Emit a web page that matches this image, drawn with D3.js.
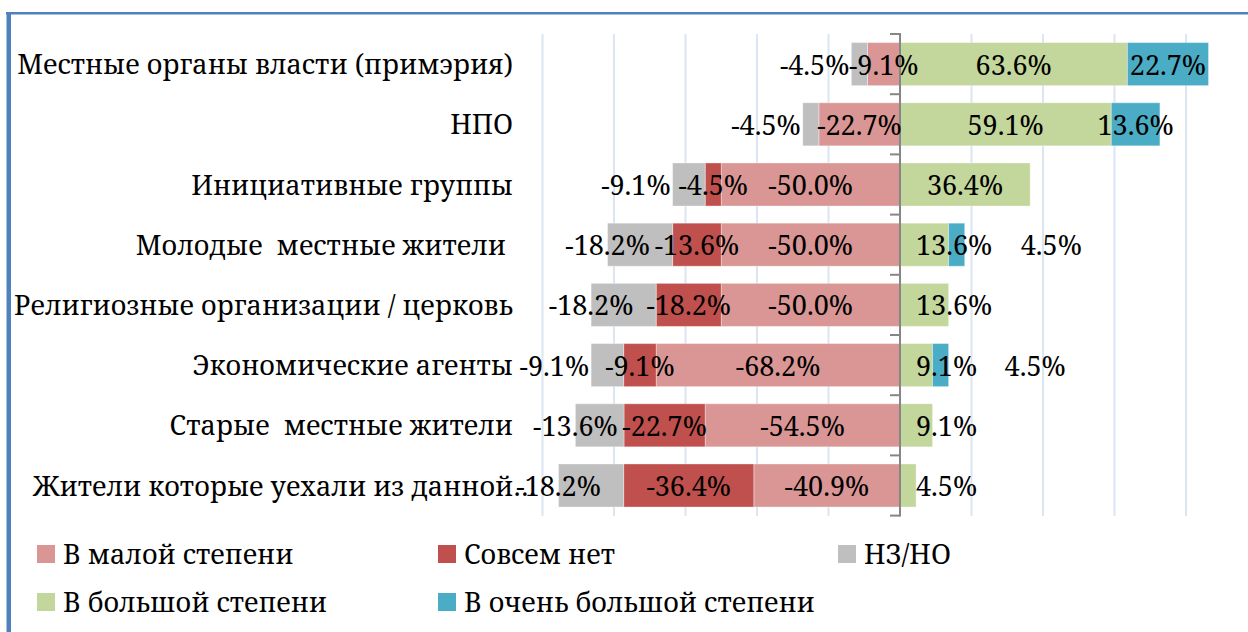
<!DOCTYPE html>
<html>
<head>
<meta charset="utf-8">
<script src="https://cdn.jsdelivr.net/npm/d3@7"></script>
<style>
  body { margin: 0; background: #fff; }
</style>
</head>
<body>
<svg id="chart" width="1248" height="632"></svg>
<script>
// categories top to bottom
const categories = [
  "Местные органы власти (примэрия)",
  "НПО",
  "Инициативные группы",
  "Молодые  местные жители ",
  "Религиозные организации / церковь",
  "Экономические агенты",
  "Старые  местные жители",
  "Жители которые уехали из данной…"
];

// series, negatives go left of zero
const maloy    = [-9.1, -22.7, -50.0, -50.0, -50.0, -68.2, -54.5, -40.9];
const sovsem   = [0, 0, -4.5, -13.6, -18.2, -9.1, -22.7, -36.4];
const nzno     = [-4.5, -4.5, -9.1, -18.2, -18.2, -9.1, -13.6, -18.2];
const bolshoy  = [63.6, 59.1, 36.4, 13.6, 13.6, 9.1, 9.1, 4.5];
const ochen    = [22.7, 13.6, 0, 4.5, 0, 4.5, 0, 0];

const seriesKeys  = ["maloy", "sovsem", "nzno", "bolshoy", "ochen"];
const seriesNames = ["В малой степени", "Совсем нет", "НЗ/НО", "В большой степени", "В очень большой степени"];
const seriesColors = ["#d99694", "#c0504d", "#bfbfbf", "#c3d69b", "#4bacc6"];
const gridTicks = [-100, -80, -60, -40, -20, 0, 20, 40, 60, 80];

const FONT = "'Noto Serif', 'Liberation Serif', serif";
const svg = d3.select("#chart");

// table for d3.stack
let rows = categories.map(function(c, i){
  return {cat: c, maloy: maloy[i], sovsem: sovsem[i], nzno: nzno[i], bolshoy: bolshoy[i], ochen: ochen[i]};
});

let x = d3.scaleLinear().domain([-100, 100]).range([542.5, 1257.5]);
let y = d3.scaleBand().domain(categories).range([34, 515.6]).paddingInner(0.285).paddingOuter(0.1425);

// outer frame (blue border top and left)
svg.append("rect").attr("x", 6).attr("y", 12).attr("width", 1260).attr("height", 2.5).attr("fill", "#4f81bd");
svg.append("rect").attr("x", 6.5).attr("y", 12).attr("width", 4.5).attr("height", 640).attr("fill", "#4f81bd");

// gridlines
svg.append("g").selectAll("line").data(gridTicks.filter(d => d != 0)).join("line")
  .attr("x1", d => x(d)).attr("x2", d => x(d))
  .attr("y1", 34).attr("y2", 516)
  .attr("stroke", "#dce6f2").attr("stroke-width", 2);

let stack = d3.stack().keys(seriesKeys).offset(d3.stackOffsetDiverging);
let stacked = stack(rows);

let barG = svg.append("g");
stacked.forEach(function(layer, si){
  barG.append("g").selectAll("rect").data(layer.filter(d => d[1] != d[0])).join("rect")
    .attr("x", d => x(Math.min(d[0], d[1])))
    .attr("width", d => Math.abs(x(d[1]) - x(d[0])))
    .attr("y", d => y(d.data.cat))
    .attr("height", y.bandwidth())
    .attr("fill", seriesColors[si])
    .attr("stroke", "#ffffff").attr("stroke-opacity", 0.35).attr("stroke-width", 1);
});

// zero axis, ticks sit between categories
let axisG = svg.append("g").attr("transform", "translate(" + x(0) + ",0)");
axisG.append("line").attr("y1", 33).attr("y2", 516.5)
  .attr("stroke", "#868686").attr("stroke-width", 2);
let bounds = d3.range(categories.length + 1).map(i => y.range()[0] + i * y.step());
axisG.append("g").selectAll("line").data(bounds).join("line")
  .attr("x1", -10).attr("x2", 0).attr("y1", d => d).attr("y2", d => d)
  .attr("stroke", "#868686").attr("stroke-width", 2);

// category labels, a too long one starts at the left of the label area
let catText = svg.append("g").selectAll("text").data(categories).join("text")
  .attr("x", 513)
  .attr("y", d => y(d) + y.bandwidth() / 2 + 10)
  .attr("text-anchor", "end")
  .style("font-family", FONT).style("font-size", "27px").style("white-space", "pre")
  .text(d => d);
catText.each(function(){
  if (this.getComputedTextLength() > 500) {
    d3.select(this).attr("x", 33).attr("text-anchor", "start");
  }
});

// data labels
let labelG = svg.append("g");
function fmt(v){ return v.toFixed(1) + "%"; }
stacked.forEach(function(layer, si){
  layer.forEach(function(d){
    let v = d.data[seriesKeys[si]];
    if (v == 0) return;
    let lo = x(Math.min(d[0], d[1])), hi = x(Math.max(d[0], d[1]));
    let lx = (lo + hi) / 2, anchor = "middle";
    let key = seriesKeys[si];
    if (key == "nzno") {
      if (Math.abs(v) < 10) { lx = lo - 2; anchor = "end"; }
      else { lx = lo; }
    } else if (key == "bolshoy" && v < 20) {
      lx = x(0) + 16; anchor = "start";
    } else if (key == "ochen" && v < 10) {
      lx = hi + 56; anchor = "start";
    }
    labelG.append("text")
      .attr("x", lx)
      .attr("y", y(d.data.cat) + y.bandwidth() / 2 + 10.5)
      .attr("text-anchor", anchor)
      .style("font-family", FONT).style("font-size", "27px")
      .text(fmt(v));
  });
});

// legend
let legendX = [37, 438, 838, 37, 438];
let legendY = [554, 554, 554, 602, 602];
let leg = svg.append("g").selectAll("g").data(seriesNames).join("g")
  .attr("transform", (d, i) => "translate(" + legendX[i] + "," + legendY[i] + ")");
leg.append("rect").attr("x", 0).attr("y", -9).attr("width", 18).attr("height", 18)
  .attr("fill", (d, i) => seriesColors[i]);
leg.append("text").attr("x", 26).attr("y", 10)
  .style("font-family", FONT).style("font-size", "27px")
  .text(d => d);
</script>
</body>
</html>
